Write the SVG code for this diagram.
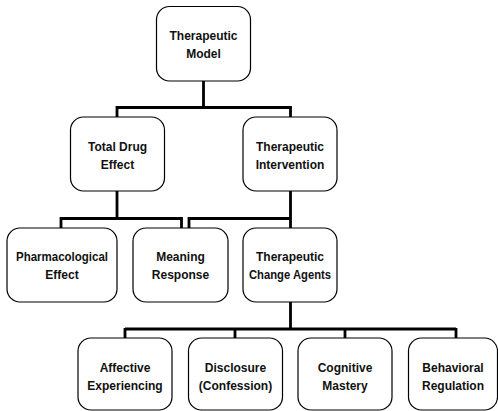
<svg xmlns="http://www.w3.org/2000/svg" width="498" height="411" viewBox="0 0 498 411">
<style>
.box{fill:#fff;stroke:#000;stroke-width:1.2}
.t{font-family:"Liberation Sans",Arial,sans-serif;font-weight:bold;font-size:12px;fill:#111;text-anchor:middle}
.c{fill:none;stroke:#000;stroke-width:2.8;stroke-linejoin:miter;stroke-linecap:butt}
</style>
<rect width="498" height="411" fill="#fff"/>
<g id="connectors">
<path class="c" d="M203.5 81V107.5M117 107.5H290.5M117 106V117M290.5 106V117"/>
<path class="c" d="M117 191V218.5M61 218.5H181.5M61 217V228M181.5 217V228"/>
<path class="c" d="M290.5 191V228M189 218.5H291.5M189 217V228"/>
<path class="c" d="M290.5 302V329M125 329H456M125 328V338M235 328V338M345 328V338M456 328V338"/>
</g>
<g id="therapeutic-model"><rect class="box" x="156.5" y="6.5" width="94" height="74.5" rx="13"/><text class="t" x="203.5" y="40">Therapeutic</text><text class="t" x="203.5" y="58">Model</text></g>
<g id="total-drug-effect"><rect class="box" x="70.5" y="117" width="94" height="74" rx="13"/><text class="t" x="117.5" y="151">Total Drug</text><text class="t" x="117.5" y="169">Effect</text></g>
<g id="therapeutic-intervention"><rect class="box" x="243" y="117" width="94" height="74" rx="13"/><text class="t" x="290" y="151">Therapeutic</text><text class="t" x="290" y="169">Intervention</text></g>
<g id="pharmacological-effect"><rect class="box" x="7" y="228" width="110" height="74" rx="13"/><text class="t" x="62" y="261" textLength="92" lengthAdjust="spacingAndGlyphs">Pharmacological</text><text class="t" x="62" y="279">Effect</text></g>
<g id="meaning-response"><rect class="box" x="133" y="228" width="95" height="74" rx="13"/><text class="t" x="180.5" y="261">Meaning</text><text class="t" x="180.5" y="279">Response</text></g>
<g id="therapeutic-change-agents"><rect class="box" x="243" y="228" width="94" height="74" rx="13"/><text class="t" x="290" y="261">Therapeutic</text><text class="t" x="290" y="279" textLength="82" lengthAdjust="spacingAndGlyphs">Change Agents</text></g>
<g id="affective-experiencing"><rect class="box" x="78" y="338" width="94" height="72" rx="13"/><text class="t" x="125" y="372">Affective</text><text class="t" x="125" y="390">Experiencing</text></g>
<g id="disclosure-confession"><rect class="box" x="188.5" y="338" width="94" height="72" rx="13"/><text class="t" x="235.5" y="372">Disclosure</text><text class="t" x="235.5" y="390">(Confession)</text></g>
<g id="cognitive-mastery"><rect class="box" x="298" y="338" width="94" height="72" rx="13"/><text class="t" x="345" y="372">Cognitive</text><text class="t" x="345" y="390">Mastery</text></g>
<g id="behavioral-regulation"><rect class="box" x="408.5" y="338" width="89" height="72" rx="13"/><text class="t" x="453" y="372">Behavioral</text><text class="t" x="453" y="390">Regulation</text></g>
</svg>
